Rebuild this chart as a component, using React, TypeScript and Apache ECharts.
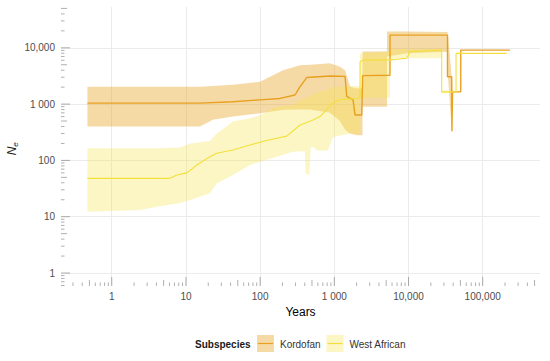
import React, { useEffect, useRef } from "react";
import * as echarts from "echarts";

// ---- axis ranges & tick labels ----
const X_MIN = 0.207;
const X_MAX = 592000;
const Y_MIN = 0.588;
const Y_MAX = 53000;
const xTickLabels = ["1", "10", "100", "1 000", "10,000", "100,000"];
const yTickLabels = ["1", "10", "100", "1 000", "10,000"];

// ---- Kordofan ----
const korLineX = [0.47, 15.5, 43, 100, 185, 295, 345, 425, 875, 1395, 1470, 1790, 1900, 2340, 2410, 5630, 5630, 33500, 33500, 38200, 38500, 39200, 39200, 50600, 50600, 233000];
const korLineY = [1040, 1040, 1100, 1190, 1260, 1450, 2040, 2960, 3160, 3100, 1370, 1190, 640, 640, 3200, 3250, 16800, 16800, 3060, 3060, 330, 330, 1650, 1650, 9100, 9100];
const korBandX = [0.47, 15.5, 23, 43, 100, 136, 204, 345, 470, 875, 1190, 1395, 1630, 2000, 2400, 2400, 5130, 5130, 9460, 33500, 34100, 38200, 39200];
const korBandLo = [400, 400, 525, 600, 690, 730, 790, 800, 800, 700, 500, 350, 300, 280, 280, 900, 900, 7000, 8000, 8500, 3000, 330, 1650];
const korBandHi = [2040, 2040, 2100, 2200, 2500, 3060, 4000, 4900, 5000, 5300, 4600, 4000, 2040, 1900, 1900, 8600, 8600, 19500, 19500, 19000, 17000, 3100, 1650];

// ---- West African ----
const waLineX = [0.47, 6.1, 7.5, 10.3, 14, 21, 26, 43, 73, 123, 228, 345, 516, 641, 790, 960, 1190, 2000, 2220, 2220, 2500, 5630, 9460, 10500, 28000, 28000, 36500, 43700, 43700, 210000];
const waLineY = [48, 48, 55, 60, 83, 116, 134, 153, 188, 225, 270, 425, 520, 600, 800, 1050, 1200, 1260, 1260, 5650, 6100, 6100, 6500, 8600, 9100, 1650, 1650, 1650, 7950, 7950];
const waBandX = [0.47, 2.4, 4.04, 8.3, 11.4, 21, 26, 43, 73, 100, 167, 277, 400, 410, 460, 480, 516, 585, 822, 960, 1630, 2220, 2220, 5630, 5630, 28000, 28000, 43700];
const waBandLo = [12.3, 13.2, 15, 17.5, 19.8, 26, 39, 55, 83, 95, 116, 142, 145, 60, 55, 170, 175, 150, 150, 260, 300, 300, 1300, 1300, 6500, 6500, 1550, 1550];
const waBandHi = [164, 164, 164, 170, 200, 220, 300, 490, 560, 640, 900, 960, 1300, 1300, 1370, 1400, 1500, 1600, 1800, 2000, 2100, 2100, 8000, 8600, 9500, 9500, 1750, 1750];

const KOR_LINE = "#E8A020";
const KOR_FILL = "rgba(233,162,31,0.4)";
const WA_LINE = "#F3E03C";
const WA_FILL = "rgba(245,228,70,0.32)";
const FONT = "Liberation Sans, Arial, sans-serif";

function bandSeries(xs: number[], lo: number[], hi: number[], fill: string) {
  return {
    type: "custom",
    silent: true,
    data: [[xs[0], lo[0]]],
    renderItem: (_params: any, api: any) => {
      const pts: number[][] = [];
      for (let i = 0; i < xs.length; i++) pts.push(api.coord([xs[i], hi[i]]));
      for (let i = xs.length - 1; i >= 0; i--) pts.push(api.coord([xs[i], lo[i]]));
      return { type: "polygon", shape: { points: pts }, style: { fill, stroke: "none" } };
    },
    z: 1,
  };
}

function labelFmt(labels: string[]) {
  return (v: number) => {
    const l = Math.log10(v);
    const k = Math.round(l);
    if (Math.abs(l - k) > 1e-6) return "";
    return labels[k] ?? "";
  };
}

export default function App() {
  const ref = useRef<HTMLDivElement>(null);
  useEffect(() => {
    document.body.style.margin = "0";
    const chart = echarts.init(ref.current!, null, { renderer: "svg" });
    const tickSeries = {
      type: "custom",
      silent: true,
      data: [[1, 1]],
      z: 3,
      renderItem: (params: any, api: any) => {
        const cs = params.coordSys;
        const bottom = cs.y + cs.height;
        const left = cs.x;
        const children: any[] = [];
        const st = { stroke: "#7a7a7a", lineWidth: 0.6 };
        for (let e = -1; e <= 5; e++) {
          for (let m = 1; m <= 9; m++) {
            const v = m * Math.pow(10, e);
            if (v < X_MIN || v > X_MAX) continue;
            const p = api.coord([v, Y_MIN]);
            const len = m === 1 ? 9 : m === 5 ? 6 : 3.5;
            children.push({ type: "line", shape: { x1: p[0], y1: bottom, x2: p[0], y2: bottom - len }, style: st });
          }
        }
        for (let e = -1; e <= 4; e++) {
          for (let m = 1; m <= 9; m++) {
            const v = m * Math.pow(10, e);
            if (v < Y_MIN || v > Y_MAX) continue;
            const p = api.coord([X_MIN, v]);
            const len = m === 1 ? 9 : m === 5 ? 6 : 3.5;
            children.push({ type: "line", shape: { x1: left, y1: p[1], x2: left + len, y2: p[1] }, style: st });
          }
        }
        return { type: "group", children };
      },
    };

    chart.setOption({
      animation: false,
      grid: { left: 61, right: 10, top: 7, bottom: 75 },
      xAxis: {
        type: "log",
        logBase: 10,
        min: X_MIN,
        max: X_MAX,
        axisLine: { show: false },
        axisTick: { show: false },
        splitLine: { show: true, showMinLine: false, showMaxLine: false, lineStyle: { color: "#ebebeb", width: 1 } },
        axisLabel: { formatter: labelFmt(xTickLabels), color: "#4d4d4d", fontSize: 10, fontFamily: FONT, margin: 5 },
        name: "Years",
        nameLocation: "middle",
        nameGap: 18,
        nameTextStyle: { color: "#000", fontSize: 12, fontFamily: FONT },
      },
      yAxis: {
        type: "log",
        logBase: 10,
        min: Y_MIN,
        max: Y_MAX,
        axisLine: { show: false },
        axisTick: { show: false },
        splitLine: { show: true, showMinLine: false, showMaxLine: false, lineStyle: { color: "#ebebeb", width: 1 } },
        axisLabel: { formatter: labelFmt(yTickLabels), color: "#4d4d4d", fontSize: 10, fontFamily: FONT, margin: 6 },
      },
      series: [
        bandSeries(korBandX, korBandLo, korBandHi, KOR_FILL),
        bandSeries(waBandX, waBandLo, waBandHi, WA_FILL),
        {
          type: "line",
          name: "Kordofan",
          data: korLineX.map((x, i) => [x, korLineY[i]]),
          showSymbol: false,
          lineStyle: { color: KOR_LINE, width: 1.4 },
          z: 4,
        },
        {
          type: "line",
          name: "West African",
          data: waLineX.map((x, i) => [x, waLineY[i]]),
          showSymbol: false,
          lineStyle: { color: WA_LINE, width: 1.1 },
          z: 4,
        },
        tickSeries,
      ],
      graphic: [
        {
          type: "group",
          x: 12,
          y: 151,
          rotation: Math.PI / 2,
          children: [
            { type: "text", x: 0, y: 0, style: { text: "N", font: `italic 12px ${FONT}`, fill: "#1a1a1a", align: "center", verticalAlign: "middle" } },
            { type: "text", x: 6.5, y: 3, style: { text: "e", font: `italic 8px ${FONT}`, fill: "#1a1a1a", align: "center", verticalAlign: "middle" } },
          ],
        },
        { type: "text", x: 195, y: 344, style: { text: "Subspecies", font: `bold 10px ${FONT}`, fill: "#1a1a1a", verticalAlign: "middle" } },
        { type: "rect", shape: { x: 257, y: 335, width: 17, height: 17 }, style: { fill: KOR_FILL } },
        { type: "line", shape: { x1: 258, y1: 343.5, x2: 273, y2: 343.5 }, style: { stroke: KOR_LINE, lineWidth: 1.2 } },
        { type: "text", x: 280, y: 344, style: { text: "Kordofan", font: `10px ${FONT}`, fill: "#333", verticalAlign: "middle" } },
        { type: "rect", shape: { x: 326.5, y: 335, width: 17, height: 17 }, style: { fill: WA_FILL } },
        { type: "line", shape: { x1: 327.5, y1: 343.5, x2: 342.5, y2: 343.5 }, style: { stroke: WA_LINE, lineWidth: 1.2 } },
        { type: "text", x: 349.5, y: 344, style: { text: "West African", font: `10px ${FONT}`, fill: "#333", verticalAlign: "middle" } },
      ],
    });
    return () => chart.dispose();
  }, []);
  return <div ref={ref} style={{ position: "absolute", left: 0, top: 0, width: 550, height: 361 }} />;
}
